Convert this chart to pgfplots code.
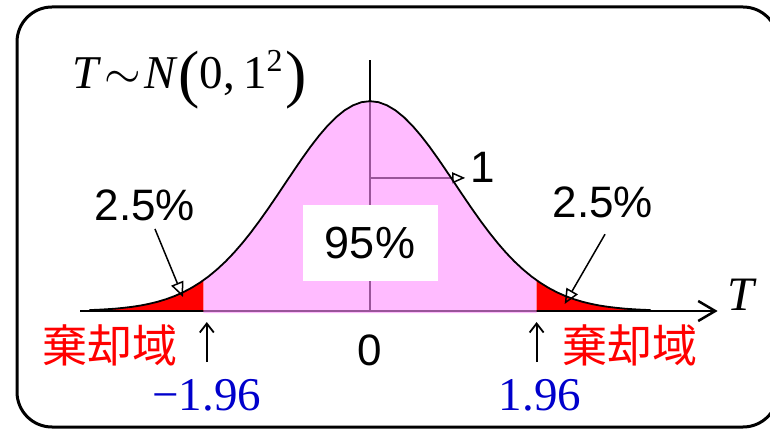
\documentclass[border=0pt]{standalone}
\usepackage{fix-cm}
\usepackage{fontspec}
\setmainfont{Liberation Sans}
\newfontfamily\serif{Liberation Serif}
\newfontfamily\cjk{Noto Sans CJK JP}
\usepackage{pgfplots}
\pgfplotsset{compat=1.18}
\usetikzlibrary{arrows.meta}
\definecolor{pinkfill}{RGB}{255,142,255}
\definecolor{bluelab}{RGB}{0,0,204}
\begin{document}
\begin{tikzpicture}[x=1pt,y=1pt]
\begin{axis}[at={(370pt,117pt)}, anchor=origin, x=85pt, y=526pt,
  xmin=-3.5, xmax=4.2, ymin=0, ymax=0.5, axis lines=none, clip=false]
% guide lines (drawn first, show through the translucent pink)
\draw[line width=1.8pt] (axis cs:0,0) -- (axis cs:0,0.477);
\draw[line width=1.5pt,-{Triangle[open,length=13pt,width=11pt]}] (axis cs:0,0.253) -- (axis cs:1.12,0.253);
\draw[line width=2.5pt] (axis cs:-1.96,0) -- (axis cs:1.96,0);
% central 95% region
\addplot[draw=none, fill=pinkfill, fill opacity=0.6] coordinates {
(-1.96,-0.004) (-1.96,0.0584) (-1.9,0.0656) (-1.8,0.0790) (-1.7,0.0940) (-1.6,0.1109)
(-1.5,0.1295) (-1.4,0.1497) (-1.3,0.1714) (-1.2,0.1942) (-1.1,0.2179) (-1.0,0.2420)
(-0.9,0.2661) (-0.8,0.2897) (-0.7,0.3123) (-0.6,0.3332) (-0.5,0.3521) (-0.4,0.3683)
(-0.3,0.3814) (-0.2,0.3910) (-0.1,0.3970) (0,0.3989) (0.1,0.3970) (0.2,0.3910)
(0.3,0.3814) (0.4,0.3683) (0.5,0.3521) (0.6,0.3332) (0.7,0.3123) (0.8,0.2897)
(0.9,0.2661) (1.0,0.2420) (1.1,0.2179) (1.2,0.1942) (1.3,0.1714) (1.4,0.1497)
(1.5,0.1295) (1.6,0.1109) (1.7,0.0940) (1.8,0.0790) (1.9,0.0656) (1.96,0.0584) (1.96,-0.004)
} -- cycle;
% rejection tails
\addplot[draw=none, fill=red] coordinates {
(-3.3,0) (-3.3,0.0017) (-3.2,0.0024) (-3.1,0.0033) (-3.0,0.0044) (-2.9,0.0060) (-2.8,0.0079)
(-2.7,0.0104) (-2.6,0.0136) (-2.5,0.0175) (-2.4,0.0224) (-2.3,0.0283) (-2.2,0.0355)
(-2.1,0.0440) (-2.0,0.0540) (-1.96,0.0584) (-1.96,0)
} -- cycle;
\addplot[draw=none, fill=red] coordinates {
(1.96,0) (1.96,0.0584) (2.0,0.0540) (2.1,0.0440) (2.2,0.0355) (2.3,0.0283) (2.4,0.0224)
(2.5,0.0175) (2.6,0.0136) (2.7,0.0104) (2.8,0.0079) (2.9,0.0060) (3.0,0.0044)
(3.1,0.0033) (3.2,0.0024) (3.3,0.0017) (3.3,0)
} -- cycle;
% density curve
\addplot[black, line width=1.8pt, mark=none] coordinates {
(-3.3,0.0017) (-3.2,0.0024) (-3.1,0.0033) (-3.0,0.0044) (-2.9,0.0060) (-2.8,0.0079)
(-2.7,0.0104) (-2.6,0.0136) (-2.5,0.0175) (-2.4,0.0224) (-2.3,0.0283) (-2.2,0.0355)
(-2.1,0.0440) (-2.0,0.0540) (-1.9,0.0656) (-1.8,0.0790) (-1.7,0.0940) (-1.6,0.1109)
(-1.5,0.1295) (-1.4,0.1497) (-1.3,0.1714) (-1.2,0.1942) (-1.1,0.2179) (-1.0,0.2420)
(-0.9,0.2661) (-0.8,0.2897) (-0.7,0.3123) (-0.6,0.3332) (-0.5,0.3521) (-0.4,0.3683)
(-0.3,0.3814) (-0.2,0.3910) (-0.1,0.3970) (0,0.3989) (0.1,0.3970) (0.2,0.3910)
(0.3,0.3814) (0.4,0.3683) (0.5,0.3521) (0.6,0.3332) (0.7,0.3123) (0.8,0.2897)
(0.9,0.2661) (1.0,0.2420) (1.1,0.2179) (1.2,0.1942) (1.3,0.1714) (1.4,0.1497)
(1.5,0.1295) (1.6,0.1109) (1.7,0.0940) (1.8,0.0790) (1.9,0.0656) (2.0,0.0540)
(2.1,0.0440) (2.2,0.0355) (2.3,0.0283) (2.4,0.0224) (2.5,0.0175) (2.6,0.0136)
(2.7,0.0104) (2.8,0.0079) (2.9,0.0060) (3.0,0.0044) (3.1,0.0033) (3.2,0.0024) (3.3,0.0017)
};
% axis segments outside the central region
\draw[line width=2.5pt] (axis cs:-3.41,0) -- (axis cs:-1.96,0);
\draw[line width=2.5pt,-{Straight Barb[length=17pt,width=20pt]}] (axis cs:1.96,0) -- (axis cs:4.09,0);
% 95% box
\fill[white] (axis cs:-0.79,0.057) rectangle (axis cs:0.80,0.2015);
\node[font=\fontsize{45}{50}\selectfont] at (axis cs:0,0.129) {95\%};
% labels
\node[font=\serif\fontsize{47}{50}\selectfont, inner sep=0pt] at (axis cs:-2.12,0.439)
  {\textit{T}\kern3pt$\sim$\kern3pt\textit{N}\kern1pt\raisebox{-7pt}{\fontsize{64}{64}\selectfont(}0,\kern8pt1\raisebox{17pt}{\fontsize{32}{32}\selectfont 2}\kern3pt\raisebox{-7pt}{\fontsize{64}{64}\selectfont)}};
\node[font=\serif\itshape\fontsize{48}{50}\selectfont] at (axis cs:4.36,0.030) {T};
\node[font=\fontsize{44}{50}\selectfont] at (axis cs:-2.65,0.2015) {2.5\%};
\node[font=\fontsize{44}{50}\selectfont] at (axis cs:2.74,0.207) {2.5\%};
\node[font=\fontsize{44}{50}\selectfont] at (axis cs:0,-0.074) {0};
\node[font=\fontsize{44}{50}\selectfont] at (axis cs:1.33,0.274) {1};
\node[font=\cjk\fontsize{45}{50}\selectfont, text=red] at (axis cs:-3.06,-0.065) {棄却域};
\node[font=\cjk\fontsize{45}{50}\selectfont, text=red] at (axis cs:3.06,-0.065) {棄却域};
\node[font=\serif\fontsize{47}{50}\selectfont, text=bluelab] at (axis cs:-1.92,-0.160) {−1.96};
\node[font=\serif\fontsize{47}{50}\selectfont, text=bluelab] at (axis cs:2.0,-0.160) {1.96};
% arrows
\draw[line width=1.8pt,-{Straight Barb[length=9pt,width=14pt]}] (axis cs:-1.92,-0.097) -- (axis cs:-1.92,-0.021);
\draw[line width=1.8pt,-{Straight Barb[length=9pt,width=14pt]}] (axis cs:1.96,-0.097) -- (axis cs:1.96,-0.021);
\draw[line width=1.5pt,-{Triangle[open,length=15pt,width=13pt]}] (axis cs:-2.53,0.156) -- (axis cs:-2.2,0.0266);
\draw[line width=1.5pt,-{Triangle[open,length=15pt,width=13pt]}] (axis cs:2.765,0.146) -- (axis cs:2.29,0.0133);
\end{axis}
% frame
\draw[line width=3pt, rounded corners=35pt] (17,421) rectangle (778,1);
\pgfresetboundingbox
\path[use as bounding box] (0,0) rectangle (770,428);
\end{tikzpicture}
\end{document}
